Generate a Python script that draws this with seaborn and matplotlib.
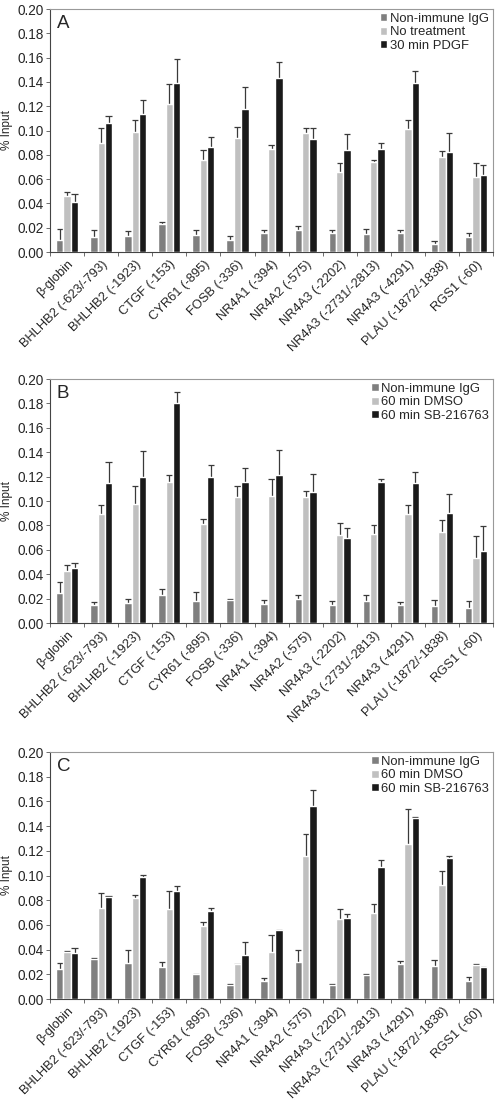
import numpy as np
import pandas as pd
import seaborn as sns
import matplotlib.pyplot as plt

# -------------------------------
# Dados
# -------------------------------
sites = ["β-globin", "BHLHB2 (-623/-793)", "BHLHB2 (-1923)", "CTGF (-153)",
         "CYR61 (-895)", "FOSB (-336)", "NR4A1 (-394)", "NR4A2 (-575)",
         "NR4A3 (-2202)", "NR4A3 (-2731/-2813)", "NR4A3 (-4291)",
         "PLAU (-1872/-1838)", "RGS1 (-60)"]

# painel A
conds_a = ["Non-immune IgG", "No treatment", "30 min PDGF"]
igg_a = [0.010, 0.012, 0.013, 0.023, 0.014, 0.010, 0.016, 0.018, 0.016, 0.015, 0.016, 0.007, 0.012]
igg_a_err = [0.009, 0.006, 0.004, 0.002, 0.004, 0.003, 0.002, 0.003, 0.002, 0.004, 0.002, 0.002, 0.004]
notx_a = [0.046, 0.090, 0.099, 0.122, 0.076, 0.094, 0.085, 0.098, 0.066, 0.074, 0.101, 0.078, 0.062]
notx_a_err = [0.003, 0.012, 0.010, 0.016, 0.008, 0.0085, 0.003, 0.004, 0.007, 0.002, 0.0075, 0.005, 0.011]
pdgf_a = [0.041, 0.106, 0.114, 0.1395, 0.0865, 0.1175, 0.143, 0.093, 0.084, 0.085, 0.139, 0.082, 0.063]
pdgf_a_err = [0.007, 0.006, 0.011, 0.0195, 0.0085, 0.0185, 0.013, 0.009, 0.013, 0.005, 0.010, 0.016, 0.009]

# painel B
conds_b = ["Non-immune IgG", "60 min DMSO", "60 min SB-216763"]
igg_b = [0.0245, 0.0144, 0.0163, 0.0226, 0.0177, 0.0188, 0.016, 0.0193, 0.0144, 0.018, 0.015, 0.0139, 0.012]
igg_b_err = [0.009, 0.0025, 0.0033, 0.0054, 0.0079, 0.0008, 0.003, 0.004, 0.0036, 0.005, 0.0024, 0.005, 0.0057]
dmso_b = [0.0427, 0.0893, 0.0977, 0.1156, 0.081, 0.103, 0.1045, 0.103, 0.072, 0.073, 0.0893, 0.0746, 0.0533]
dmso_b_err = [0.0049, 0.0076, 0.015, 0.0054, 0.0044, 0.009, 0.0135, 0.0056, 0.0096, 0.0075, 0.0077, 0.010, 0.0183]
sb_b = [0.0454, 0.1148, 0.1195, 0.180, 0.1195, 0.116, 0.121, 0.1075, 0.070, 0.116, 0.115, 0.0906, 0.0588]
sb_b_err = [0.0041, 0.0172, 0.0215, 0.009, 0.010, 0.011, 0.021, 0.0145, 0.008, 0.002, 0.009, 0.0154, 0.0209]

# painel C
conds_c = conds_b
igg_c = [0.0246, 0.0327, 0.029, 0.0257, 0.020, 0.0116, 0.0143, 0.0297, 0.0116, 0.0195, 0.0286, 0.0268, 0.0146]
igg_c_err = [0.0044, 0.0003, 0.011, 0.0043, 0.0003, 0.0003, 0.0025, 0.010, 0.0003, 0.0005, 0.0024, 0.0046, 0.003]
dmso_c = [0.0384, 0.0735, 0.0816, 0.0732, 0.059, 0.028, 0.038, 0.116, 0.0649, 0.0697, 0.1257, 0.0924, 0.0276]
dmso_c_err = [0.0005, 0.0122, 0.003, 0.0146, 0.003, 0.0005, 0.0136, 0.018, 0.0078, 0.0073, 0.0283, 0.0111, 0.001]
sb_c = [0.037, 0.0827, 0.0986, 0.0873, 0.0716, 0.036, 0.056, 0.156, 0.0657, 0.1068, 0.147, 0.114, 0.0257]
sb_c_err = [0.004, 0.0005, 0.0016, 0.0041, 0.0022, 0.0105, 0.0003, 0.0135, 0.0033, 0.0056, 0.0005, 0.0017, 0.0003]

cores = ["#7f7f7f", "#c0c0c0", "#1a1a1a"]

sns.set_style("ticks")
plt.rcParams["font.family"] = ["Liberation Sans", "DejaVu Sans"]


def painel(ax, letra, conds, valores, erros):
    df = pd.DataFrame({
        "site": sites * 3,
        "cond": np.repeat(conds, len(sites)),
        "pct": np.concatenate(valores),
    })
    sns.barplot(data=df, x="site", y="pct", hue="cond", order=sites,
                hue_order=conds, palette=cores, width=0.65, saturation=1,
                errorbar=None, ax=ax, zorder=3)

    # barras de erro (só para cima, com traço no topo)
    for cont, vals, errs in zip(ax.containers, valores, erros):
        xs = np.array([p.get_x() + p.get_width() / 2 for p in cont])
        w = cont[0].get_width()
        tops = np.array(vals) + np.array(errs)
        ax.vlines(xs, vals, tops, color="#3a3a3a", lw=0.9, zorder=2)
        ax.hlines(tops, xs - 0.42 * w, xs + 0.42 * w, color="#3a3a3a", lw=0.9, zorder=2)

    ax.set_xlim(-0.5, len(sites) - 0.5)
    ax.set_ylim(0, 0.2)
    ax.set_yticks(np.arange(0, 0.201, 0.02))
    ax.set_yticklabels([f"{v:.2f}" for v in np.arange(0, 0.201, 0.02)], fontsize=9.8)
    ax.set_xticks(range(len(sites)))
    ax.set_xticklabels(sites, rotation=45, ha="right", va="top",
                       rotation_mode="anchor", fontsize=9.3)
    ax.set_xticks(np.arange(-0.5, len(sites), 1), minor=True)
    ax.tick_params(axis="x", which="major", length=0, pad=4.5)
    ax.tick_params(axis="x", which="minor", length=3, width=0.6, color="#555555")
    ax.tick_params(axis="y", length=3, width=0.6, color="#555555", pad=1.5)
    ax.set_xlabel("")
    ax.set_ylabel("% Input", fontsize=8.5)
    ax.yaxis.set_label_coords(-0.083, 0.5)

    for s in ["top", "right"]:
        ax.spines[s].set_visible(True)
        ax.spines[s].set_color("#999999")
    for s in ["left", "bottom"]:
        ax.spines[s].set_color("#444444")
    for s in ax.spines.values():
        s.set_linewidth(0.8)

    ax.text(0.015, 0.975, letra, transform=ax.transAxes, fontsize=13.5,
            va="top", ha="left")
    h, l = ax.get_legend_handles_labels()
    ax.legend(h, l, loc="upper right", frameon=False, fontsize=9.4,
              handlelength=0.55, handleheight=0.55, handletextpad=0.2,
              labelspacing=0.1, borderaxespad=0.2, borderpad=0.1)


fig = plt.figure(figsize=(4.96, 11), dpi=100)
ax_a = fig.add_axes([0.101, 0.7709, 0.893, 0.2209])
ax_b = fig.add_axes([0.101, 0.4336, 0.893, 0.2218])
ax_c = fig.add_axes([0.101, 0.0918, 0.893, 0.2245])

painel(ax_a, "A", conds_a, [igg_a, notx_a, pdgf_a], [igg_a_err, notx_a_err, pdgf_a_err])
painel(ax_b, "B", conds_b, [igg_b, dmso_b, sb_b], [igg_b_err, dmso_b_err, sb_b_err])
painel(ax_c, "C", conds_c, [igg_c, dmso_c, sb_c], [igg_c_err, dmso_c_err, sb_c_err])

fig.savefig("out.png", dpi=100)
